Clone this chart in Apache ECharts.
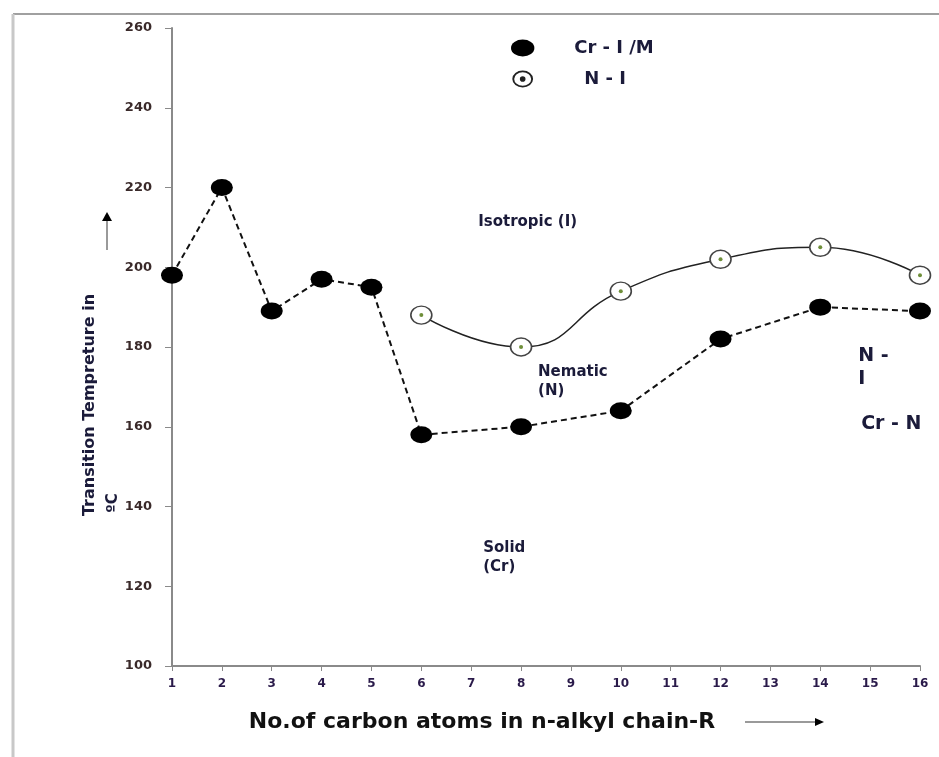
<!DOCTYPE html>
<html>
<head>
<meta charset="utf-8">
<script src="https://cdn.jsdelivr.net/npm/echarts@6/dist/echarts.min.js"></script>
<style>
html,body{margin:0;padding:0;background:#fff;}
#chart{width:939px;height:757px;}
</style>
</head>
<body>
<div id="chart"></div>
<script>
// ---- data ----
const crX = [1, 2, 3, 4, 5, 6, 8, 10, 12, 14, 16];
const crY = [198, 220, 189, 197, 195, 158, 160, 164, 182, 190, 189];
const niX = [6, 8, 10, 12, 14, 16];
const niY = [188, 180, 194, 202, 205, 198];
const xTicks = [1, 16, 1];      // min, max, interval
const yTicks = [100, 260, 20];  // min, max, interval
const seriesNames = ['Cr - I /M', 'N - I'];
const yTitle = 'Transition Tempreture in';
const yUnit = 'ºC';
const xTitle = 'No.of carbon atoms in n-alkyl chain-R';
const regionText = ['Isotropic (I)', 'Nematic\n(N)', 'Solid\n(Cr)', 'N -\nI', 'Cr - N'];
const regionX = [7.14, 8.34, 7.24, 14.76, 14.82];
const regionY = [211.3, 171.2, 127.1, 174.8, 160.7];
const regionSize = [15, 15, 15, 19, 19];

const crData = crX.map((x, i) => [x, crY[i]]);
const niData = niX.map((x, i) => [x, niY[i]]);

const FONT = '"DejaVu Sans", "Liberation Sans", Arial';
const txtColor = '#1b1b3a';
const chart = echarts.init(document.getElementById('chart'));
chart.setOption({
  backgroundColor: '#fff',
  animation: false,
  grid: { left: 172, right: 19, top: 28, bottom: 91 },
  legend: {
    orient: 'vertical',
    left: 506,
    top: 34,
    itemWidth: 25,
    itemHeight: 17,
    itemGap: 13,
    textStyle: {
      fontFamily: FONT, fontWeight: 'bold', fontSize: 18, color: txtColor,
      rich: {
        a: { fontFamily: FONT, fontWeight: 'bold', fontSize: 18, color: txtColor, padding: [0, 0, 0, 34] },
        b: { fontFamily: FONT, fontWeight: 'bold', fontSize: 18, color: txtColor, padding: [0, 0, 0, 44] }
      }
    },
    formatter: function (n) { return n === seriesNames[1] ? '{b|' + n + '}' : '{a|' + n + '}'; },
    data: [
      { name: seriesNames[0], icon: 'path://M0,8 A11,8 0 1,1 22,8 A11,8 0 1,1 0,8 Z', itemStyle: { color: '#000', borderWidth: 0 } },
      { name: seriesNames[1], icon: 'path://M0,9 A11,9 0 1,1 22,9 A11,9 0 1,1 0,9 Z M2,9 A9,7.2 0 1,0 20,9 A9,7.2 0 1,0 2,9 Z M8,9 A3,3 0 1,1 14,9 A3,3 0 1,1 8,9 Z', itemStyle: { color: '#222', borderWidth: 0 } }
    ]
  },
  xAxis: {
    type: 'value',
    min: xTicks[0], max: xTicks[1], interval: xTicks[2],
    axisLine: { lineStyle: { color: '#8a8a8a', width: 2 } },
    axisTick: { show: true, length: 5, lineStyle: { color: '#8a8a8a', width: 1 } },
    axisLabel: { margin: 12, fontFamily: FONT, fontWeight: 'bold', fontSize: 12, color: '#2a1a4a' },
    splitLine: { show: false }
  },
  yAxis: {
    type: 'value',
    min: yTicks[0], max: yTicks[1], interval: yTicks[2],
    axisLine: { show: true, lineStyle: { color: '#8a8a8a', width: 2 } },
    axisTick: { show: true, length: 7, lineStyle: { color: '#8a8a8a', width: 1 } },
    axisLabel: { margin: 20, fontFamily: FONT, fontWeight: 'bold', fontSize: 13, color: '#3a2a2a' },
    splitLine: { show: false }
  },
  series: [
    {
      name: seriesNames[0], type: 'line', data: crData,
      symbol: 'circle', symbolSize: [22, 17],
      itemStyle: { color: '#000' },
      lineStyle: { color: '#111', width: 2, type: [6, 4] },
      z: 3
    },
    {
      name: seriesNames[1], type: 'line', data: niData, smooth: 0.5,
      symbol: 'circle', symbolSize: [21, 18],
      itemStyle: { color: '#fff', borderColor: '#444', borderWidth: 1.5 },
      lineStyle: { color: '#222', width: 1.5 },
      z: 4
    },
    {
      name: 'N-I centre', type: 'scatter', data: niData,
      symbol: 'circle', symbolSize: 4,
      itemStyle: { color: '#6f8f3a', opacity: 1 },
      silent: true, z: 5
    },
    {
      name: 'labels', type: 'scatter', symbolSize: 0, silent: true, z: 6,
      itemStyle: { opacity: 1 },
      data: regionText.map((t, i) => ({
        value: [regionX[i], regionY[i]],
        label: { show: true, formatter: t, fontSize: regionSize[i], lineHeight: regionSize[i] + 4 }
      })),
      label: { position: 'inside', fontFamily: FONT, fontWeight: 'bold', color: txtColor, align: 'left', verticalAlign: 'middle', opacity: 1 }
    }
  ],
  graphic: [
    { type: 'line', shape: { x1: 13, y1: 14, x2: 939, y2: 14 }, style: { stroke: '#a0a0a0', lineWidth: 2 } },
    { type: 'line', shape: { x1: 13, y1: 14, x2: 13, y2: 757 }, style: { stroke: '#c8c8c8', lineWidth: 3 } },
    { type: 'text', x: 90, y: 405, rotation: Math.PI / 2,
      style: { text: yTitle, font: 'bold 16px "DejaVu Sans", Arial', fill: txtColor, textAlign: 'center', textVerticalAlign: 'middle' } },
    { type: 'text', x: 113, y: 503, rotation: Math.PI / 2,
      style: { text: yUnit, font: 'bold 15px "DejaVu Sans", Arial', fill: txtColor, textAlign: 'center', textVerticalAlign: 'middle' } },
    { type: 'line', shape: { x1: 107, y1: 250, x2: 107, y2: 220 }, style: { stroke: '#9a9a9a', lineWidth: 2 } },
    { type: 'polygon', shape: { points: [[102, 221], [112, 221], [107, 212]] }, style: { fill: '#000' } },
    { type: 'text', x: 482, y: 722,
      style: { text: xTitle, font: 'bold 22px "DejaVu Sans", Arial', fill: '#111', textAlign: 'center', textVerticalAlign: 'middle' } },
    { type: 'line', shape: { x1: 745, y1: 722, x2: 816, y2: 722 }, style: { stroke: '#9a9a9a', lineWidth: 2 } },
    { type: 'polygon', shape: { points: [[815, 718], [815, 726], [824, 722]] }, style: { fill: '#000' } }
  ]
});
</script>
</body>
</html>
